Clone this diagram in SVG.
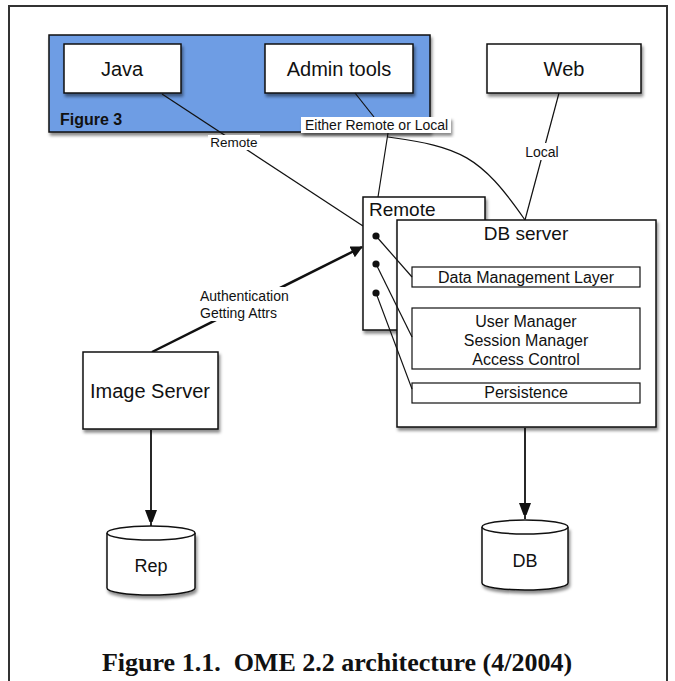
<svg xmlns="http://www.w3.org/2000/svg" width="675" height="681" viewBox="0 0 675 681">
<defs>
<filter id="sh" x="-10%" y="-10%" width="130%" height="140%">
<feDropShadow dx="1.5" dy="3" stdDeviation="1.8" flood-color="#000" flood-opacity="0.45"/>
</filter>
<marker id="ah" markerWidth="12" markerHeight="12" viewBox="0 0 12 12" refX="11" refY="6" orient="auto" markerUnits="userSpaceOnUse">
<path d="M0,0 L12,6 L0,12 Z" fill="#111"/>
</marker>
<marker id="ahd" markerWidth="12" markerHeight="17" viewBox="0 0 12 17" refX="16" refY="6" orient="auto" markerUnits="userSpaceOnUse">
<path d="M0,0 L16,6 L0,12 Z" fill="#111"/>
</marker>
</defs>
<style>
.box{fill:#fff;stroke:#111;stroke-width:1.5}
.inner{fill:#fff;stroke:#111;stroke-width:1.2}
.t{font-family:"Liberation Sans",Arial,sans-serif;fill:#111}
.c{text-anchor:middle}
.ln{fill:none;stroke:#111;stroke-width:1.2}
.lbl{fill:#fff}
</style>
<rect x="0" y="0" width="675" height="681" fill="#fff"/>
<path d="M9,690 L9,6 L667,6 L667,690" fill="none" stroke="#333" stroke-width="2"/>

<g id="figure3">
<rect x="49" y="35" width="381" height="97" fill="#6e9de4" stroke="#111" stroke-width="1.5" filter="url(#sh)"/>
<text class="t" x="60" y="125" font-size="16" font-weight="bold">Figure 3</text>
</g>
<g id="java">
<rect class="box" x="64" y="44" width="117" height="49" filter="url(#sh)"/>
<text class="t c" x="122" y="76" font-size="20">Java</text>
</g>
<g id="admin">
<rect class="box" x="265" y="44" width="148" height="49" filter="url(#sh)"/>
<text class="t c" x="339" y="76" font-size="20">Admin tools</text>
</g>
<g id="web">
<rect class="box" x="487" y="44" width="154" height="49" filter="url(#sh)"/>
<text class="t c" x="564" y="76" font-size="20">Web</text>
</g>

<g id="connectors">
<line class="ln" x1="162" y1="94" x2="363" y2="226"/>
<line class="ln" x1="355" y1="93" x2="374" y2="117"/>
<line class="ln" x1="388" y1="133" x2="378" y2="197"/>
<path class="ln" d="M388,137 C460,147 480,155 525,220"/>
<line class="ln" x1="559" y1="93" x2="525" y2="220"/>
<line x1="152" y1="352" x2="362" y2="247" stroke="#111" stroke-width="2.5" marker-end="url(#ah)"/>
<line x1="151" y1="430" x2="151" y2="526" stroke="#111" stroke-width="1.8" marker-end="url(#ahd)"/>
<line x1="525" y1="428" x2="525" y2="519" stroke="#111" stroke-width="1.8" marker-end="url(#ahd)"/>
</g>

<g id="labels">
<rect x="301" y="117" width="150" height="16" fill="#fff" filter="url(#sh)"/>
<text class="t" x="305" y="130" font-size="14">Either Remote or Local</text>
<rect class="lbl" x="208" y="135" width="52" height="15"/>
<text class="t c" x="234" y="147" font-size="13.5">Remote</text>
<rect class="lbl" x="524" y="143" width="36" height="17"/>
<text class="t c" x="542" y="157" font-size="14">Local</text>
<rect class="lbl" x="198" y="287" width="92" height="34"/>
<text class="t" x="200" y="301" font-size="14">Authentication</text>
<text class="t" x="200" y="318" font-size="14">Getting Attrs</text>
</g>

<g id="remote">
<rect class="box" x="363" y="197" width="122" height="133" filter="url(#sh)"/>
<text class="t" x="369" y="216" font-size="19">Remote</text>
</g>

<g id="dbserver">
<rect class="box" x="397" y="220" width="259" height="207" filter="url(#sh)"/>
<text class="t c" x="526" y="240" font-size="19">DB server</text>
</g>
<g id="dml">
<rect class="inner" x="412" y="267" width="228" height="20"/>
<text class="t c" x="526" y="283" font-size="16">Data Management Layer</text>
</g>
<g id="managers">
<rect class="inner" x="412" y="308" width="228" height="61"/>
<text class="t c" x="526" y="327" font-size="16">User Manager</text>
<text class="t c" x="526" y="346" font-size="16">Session Manager</text>
<text class="t c" x="526" y="365" font-size="16">Access Control</text>
</g>
<g id="persistence">
<rect class="inner" x="412" y="383" width="228" height="20"/>
<text class="t c" x="526" y="398" font-size="16">Persistence</text>
</g>

<g id="remote-links">
<circle cx="376" cy="236" r="3.6" fill="#111"/>
<circle cx="376" cy="264" r="3.6" fill="#111"/>
<circle cx="376" cy="293" r="3.6" fill="#111"/>
<line class="ln" x1="376" y1="236" x2="412" y2="277"/>
<line class="ln" x1="376" y1="264" x2="412" y2="337"/>
<line class="ln" x1="376" y1="293" x2="412" y2="389"/>
</g>

<g id="imageserver">
<rect class="box" x="83" y="352" width="135" height="77" filter="url(#sh)"/>
<text class="t c" x="150" y="398" font-size="20">Image Server</text>
</g>

<g id="rep">
<path d="M107,533 L107,588 A44,7 0 0 0 195,588 L195,533" fill="#fff" stroke="#111" stroke-width="1.5" filter="url(#sh)"/>
<ellipse cx="151" cy="533" rx="44" ry="7" fill="#fff" stroke="#111" stroke-width="1.5"/>
<text class="t c" x="151" y="572" font-size="18">Rep</text>
</g>
<g id="db">
<path d="M482,527 L482,583 A43,7 0 0 0 568,583 L568,527" fill="#fff" stroke="#111" stroke-width="1.5" filter="url(#sh)"/>
<ellipse cx="525" cy="527" rx="43" ry="7" fill="#fff" stroke="#111" stroke-width="1.5"/>
<text class="t c" x="525" y="567" font-size="18">DB</text>
</g>

<text x="337" y="671" font-family="'Liberation Serif','Times New Roman',serif" font-size="26" font-weight="bold" text-anchor="middle" fill="#111" style="white-space:pre">Figure 1.1.  OME 2.2 architecture (4/2004)</text>
</svg>
